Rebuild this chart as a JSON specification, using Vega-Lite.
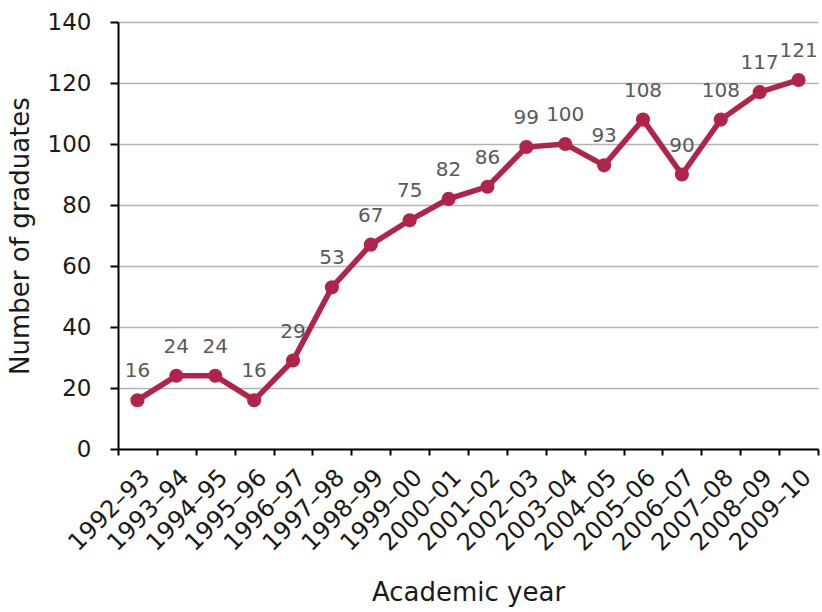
{
  "$schema": "https://vega.github.io/schema/vega-lite/v6.json",
  "autosize": "none",
  "width": 700,
  "height": 427,
  "padding": {"left": 118, "top": 22, "right": 4, "bottom": 163},
  "background": "white",
  "config": {
    "font": "DejaVu Sans",
    "view": {"stroke": null},
    "axis": {"labelFont": "DejaVu Sans", "titleFont": "DejaVu Sans", "labelColor": "#1a1a1a", "titleColor": "#1a1a1a", "titleFontWeight": "normal"}
  },
  "data": {
    "values": [
      {"year": "1992–93", "graduates": 16},
      {"year": "1993–94", "graduates": 24},
      {"year": "1994–95", "graduates": 24},
      {"year": "1995–96", "graduates": 16},
      {"year": "1996–97", "graduates": 29},
      {"year": "1997–98", "graduates": 53},
      {"year": "1998–99", "graduates": 67},
      {"year": "1999–00", "graduates": 75},
      {"year": "2000–01", "graduates": 82},
      {"year": "2001–02", "graduates": 86},
      {"year": "2002–03", "graduates": 99},
      {"year": "2003–04", "graduates": 100},
      {"year": "2004–05", "graduates": 93},
      {"year": "2005–06", "graduates": 108},
      {"year": "2006–07", "graduates": 90},
      {"year": "2007–08", "graduates": 108},
      {"year": "2008–09", "graduates": 117},
      {"year": "2009–10", "graduates": 121}
    ]
  },
  "encoding": {
    "x": {
      "field": "year",
      "type": "ordinal",
      "sort": null,
      "scale": {"type": "band", "paddingInner": 0, "paddingOuter": 0},
      "axis": {
        "title": "Academic year",
        "titleFontSize": 26,
        "titlePadding": 24,
        "labelAngle": -45,
        "labelFontSize": 24,
        "labelPadding": 10,
        "labelOverlap": false,
        "tickBand": "extent",
        "tickSize": 6,
        "tickColor": "#000000",
        "tickWidth": 2,
        "domainColor": "#000000",
        "domainWidth": 2,
        "grid": false
      }
    },
    "y": {
      "field": "graduates",
      "type": "quantitative",
      "scale": {"domain": [0, 140], "nice": false},
      "axis": {
        "title": "Number of graduates",
        "titleFontSize": 26,
        "titlePadding": 14,
        "values": [0, 20, 40, 60, 80, 100, 120, 140],
        "labelFontSize": 23,
        "labelPadding": 19,
        "tickSize": 8,
        "tickColor": "#000000",
        "tickWidth": 2,
        "domainColor": "#000000",
        "domainWidth": 2,
        "gridColor": "#b3b3b3",
        "gridWidth": 1.3
      }
    }
  },
  "layer": [
    {
      "mark": {"type": "line", "color": "#B0244A", "strokeWidth": 5.5, "point": {"filled": true, "size": 200, "color": "#B0244A", "opacity": 1}}
    },
    {
      "mark": {"type": "text", "dy": -29, "fontSize": 20, "color": "#595959"},
      "encoding": {"text": {"field": "graduates", "type": "quantitative"}}
    }
  ]
}
